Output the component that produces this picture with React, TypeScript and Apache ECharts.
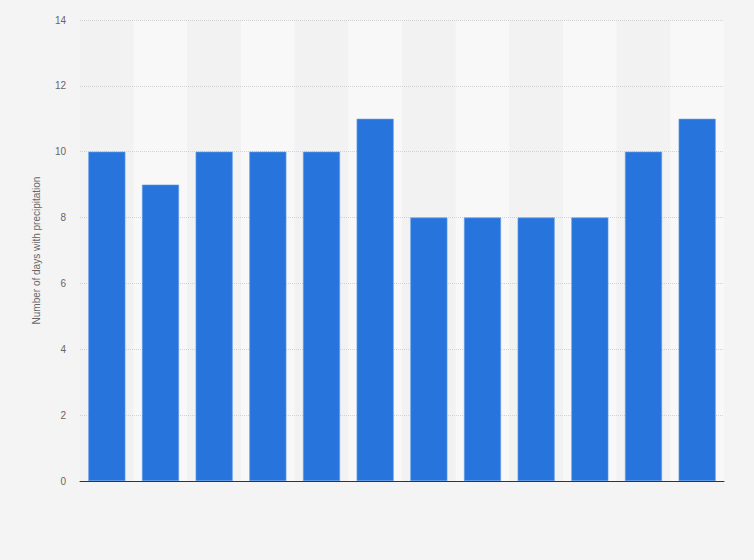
import React, { useEffect, useRef } from "react";
import * as echarts from "echarts";

const categories = ["Jan", "Feb", "Mar", "Apr", "May", "Jun", "Jul", "Aug", "Sep", "Oct", "Nov", "Dec"];
const values = [10, 9, 10, 10, 10, 11, 8, 8, 8, 8, 10, 11];
const yTicks = { min: 0, max: 14, interval: 2 };
const yAxisName = "Number of days with precipitation";

export default function App() {
  const ref = useRef<HTMLDivElement>(null);
  useEffect(() => {
    document.body.style.margin = "0";
    const chart = echarts.init(ref.current!, null, { renderer: "svg" });
    chart.setOption({
      animation: false,
      backgroundColor: "#f4f4f4",
      textStyle: { fontFamily: "Liberation Sans, Arial, sans-serif" },
      grid: { left: 80, right: 30, top: 20, bottom: 79, containLabel: false },
      xAxis: {
        type: "category",
        data: categories,
        z: 0,
        axisLabel: { show: false },
        axisTick: { show: false },
        axisLine: { show: true, lineStyle: { color: "#333", width: 1 } },
        splitArea: { show: true, areaStyle: { color: ["#f2f2f2", "#f8f8f8"] } },
      },
      yAxis: {
        type: "value",
        z: 1,
        min: yTicks.min,
        max: yTicks.max,
        interval: yTicks.interval,
        name: yAxisName,
        nameLocation: "middle",
        nameGap: 39,
        nameTextStyle: { color: "#666", fontSize: 10 },
        axisLabel: { color: "#666", fontSize: 10, margin: 14 },
        axisLine: { show: false },
        axisTick: { show: false },
        splitLine: { show: true, lineStyle: { color: "#d2d2d2", type: [1, 1], width: 1 } },
      },
      series: [
        {
          type: "bar",
          z: 2,
          data: values,
          barWidth: "69%",
          itemStyle: { color: "#2775dc", borderColor: "#6a9fe8", borderWidth: 0.6 },
          markLine: {
            silent: true,
            symbol: "none",
            label: { show: false },
            lineStyle: { color: "#333", type: "solid", width: 1 },
            data: [{ yAxis: 0 }],
          },
        },
      ],
    });
    return () => chart.dispose();
  }, []);
  return <div ref={ref} style={{ position: "fixed", left: 0, top: 0, width: 754, height: 560 }} />;
}
